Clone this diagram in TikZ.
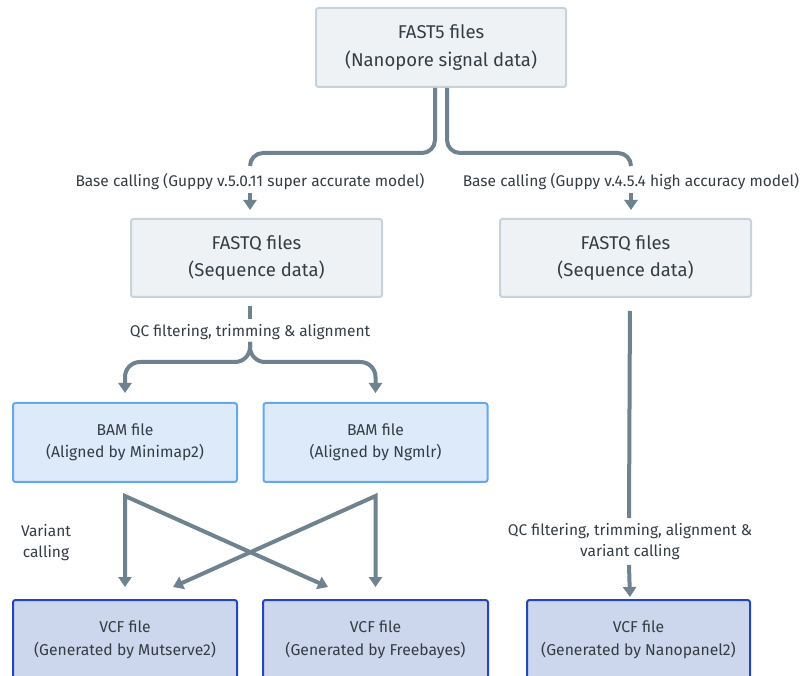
\documentclass[tikz,border=0pt]{standalone}
\usepackage{fontspec}
\setmainfont{Fira Sans}
\usetikzlibrary{arrows.meta}
\definecolor{txt}{HTML}{353D44}
\definecolor{conncol}{HTML}{6F8290}
\definecolor{topfill}{HTML}{EEF2F4}
\definecolor{topdraw}{HTML}{C8D2DA}
\definecolor{bamfill}{HTML}{DCEAFA}
\definecolor{bamdraw}{HTML}{64A8EE}
\definecolor{vcffill}{HTML}{CCD6EC}
\definecolor{vcfdraw}{HTML}{2346B8}
\tikzset{
  x=1pt,y=1pt,
  topbox/.style={draw=topdraw,fill=topfill,line width=2pt,rounded corners=2.5pt,align=center,text=txt,inner sep=0pt,font=\fontsize{18.5}{27.5}\selectfont},
  bambox/.style={draw=bamdraw,fill=bamfill,line width=2pt,rounded corners=2.5pt,align=center,text=txt,inner sep=0pt,minimum width=224pt,minimum height=79pt,font=\fontsize{15.7}{22}\selectfont},
  vcfbox/.style={draw=vcfdraw,fill=vcffill,line width=2pt,rounded corners=2.5pt,align=center,text=txt,inner sep=0pt,minimum height=80pt,font=\fontsize{15.7}{23}\selectfont},
  lbl/.style={text=txt,align=center,inner sep=2pt,font=\fontsize{15.5}{21}\selectfont},
  conn/.style={draw=conncol,line width=4pt},
  tip/.style={-{Triangle[width=13pt,length=10pt]}},
  tips/.style={{Triangle[width=13pt,length=10pt]}-{Triangle[width=13pt,length=10pt]}},
}
\begin{document}
\begin{tikzpicture}
\useasboundingbox[fill=white] (0,0) rectangle (804,-676);
\clip (0,0) rectangle (804,-676);
% boxes
\node[topbox,minimum width=250pt,minimum height=79pt] (fast5) at (441,-47.5) {FAST5 files\\(Nanopore signal data)};
\node[topbox,minimum width=251pt,minimum height=78pt] (fastqL) at (256.5,-258) {FASTQ files\\(Sequence data)};
\node[topbox,minimum width=251pt,minimum height=78pt] (fastqR) at (625.5,-258) {FASTQ files\\(Sequence data)};
\node[bambox] (bamL) at (125,-442.5) {BAM file\\(Aligned by Minimap2)};
\node[bambox] (bamR) at (375.5,-442.5) {BAM file\\(Aligned by Ngmlr)};
\node[vcfbox,minimum width=224pt] (vcfL) at (125,-640) {VCF file\\(Generated by Mutserve2)};
\node[vcfbox,minimum width=225pt] (vcfM) at (375.5,-640) {VCF file\\(Generated by Freebayes)};
\node[vcfbox,minimum width=223pt] (vcfR) at (638.5,-640) {VCF file\\(Generated by Nanopanel2)};
% labels
\node[lbl] (bcL) at (250,-182) {Base calling (Guppy v.5.0.11 super accurate model)};
\node[lbl] (bcR) at (631,-182) {Base calling (Guppy v.4.5.4 high accuracy model)};
\node[lbl] (qcL) at (250,-332) {QC filtering, trimming \& alignment};
\node[lbl] (qcR) at (630,-542) {QC filtering, trimming, alignment \&\\variant calling};
\node[lbl] (vc) at (46,-543) {Variant\\calling};
% coordinates
\coordinate (bcLtop) at (250,-166);
\coordinate (bcRtop) at (631,-166);
% connectors FAST5 -> labels
\draw[conn,rounded corners=13pt] ([xshift=-6pt]fast5.south) |- (bcLtop |- 0,-153) -- (bcLtop);
\draw[conn,rounded corners=13pt] ([xshift=6pt]fast5.south) |- (bcRtop |- 0,-153) -- (bcRtop);
% labels -> FASTQ
\draw[conn,tip,shorten >=8pt] (250,-193) -- (fastqL.north -| bcL.south);
\draw[conn,tip,shorten >=8pt] (631,-193) -- (fastqR.north -| bcR.south);
% FASTQ left -> QC label
\draw[conn,shorten <=8pt] (fastqL.south -| qcL.north) -- (250,-319);
% brace to BAM
\draw[conn,tip,rounded corners=15pt] (250,-342) -- (250,-362) -| ([yshift=9pt]bamL.north);
\draw[conn,tip,rounded corners=15pt] (250,-342) -- (250,-362) -| ([yshift=9pt]bamR.north);
% BAM -> VCF crossing
\draw[conn,tips] ([xshift=-47.5pt,yshift=12pt]vcfM.north) -- ([yshift=-13pt]bamL.south) -- ([yshift=12pt]vcfL.north);
\draw[conn,tips] ([xshift=48pt,yshift=12pt]vcfL.north) -- ([yshift=-13pt]bamR.south) -- ([yshift=12pt]vcfM.north);
% right chain
\draw[conn,shorten <=13pt] (fastqR.south -| qcR.north) -- (629,-518);
\draw[conn,tip,shorten >=2pt] (629,-565) -- (vcfR.north -| qcR.south);
\end{tikzpicture}
\end{document}
